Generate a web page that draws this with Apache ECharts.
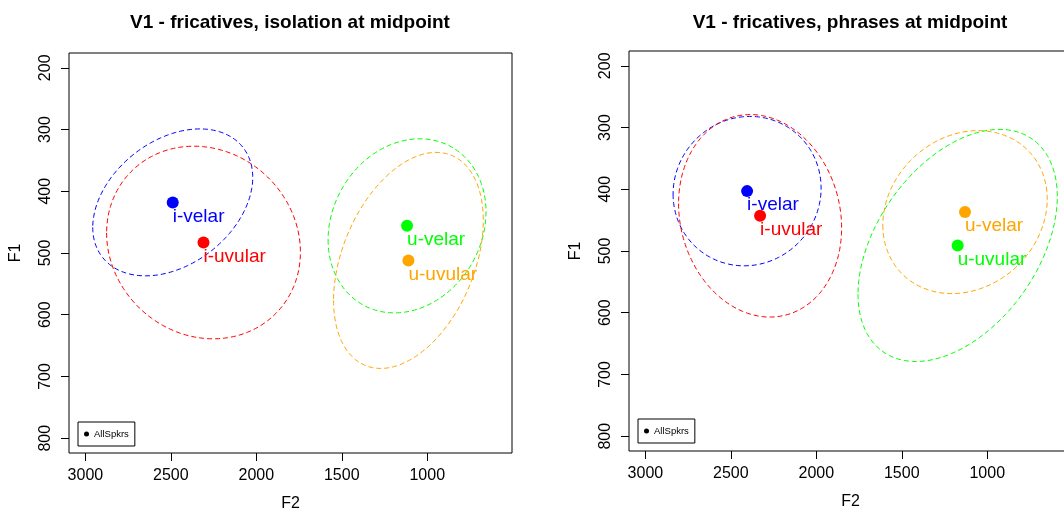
<!DOCTYPE html>
<html>
<head>
<meta charset="utf-8">
<script src="https://cdn.jsdelivr.net/npm/echarts@6/dist/echarts.min.js"></script>
<style>
html, body { margin: 0; padding: 0; background: #fff; }
#main { width: 1064px; height: 510px; }
</style>
</head>
<body>
<div id="main"></div>
<script>
// vowel categories
var vowels = ['i-velar', 'i-uvular', 'u-velar', 'u-uvular'];

// isolation: mean F2 / F1 (Hz) and ellipse half-extents + F2/F1 correlation
var isoF2 = [2489, 2309, 1118, 1110];
var isoF1 = [418, 483, 456, 512];
var isoHalfF2 = [468, 567, 462, 438];
var isoHalfF1 = [119, 156, 141, 175];
var isoCorr = [0.34, -0.10, 0.16, 0.37];

// phrases
var phrF2 = [2405, 2329, 1130, 1173];
var phrF1 = [403, 443, 437, 491];
var phrHalfF2 = [433, 477, 481, 583];
var phrHalfF1 = [121, 164, 132, 188];
var phrCorr = [0.04, -0.12, 0.16, 0.42];

// axis ticks
var f2Ticks = [1000, 1500, 2000, 2500, 3000];
var f1Ticks = [200, 300, 400, 500, 600, 700, 800];

var isoColors = ['#0000FF', '#FF0000', '#00FF00', '#FFA500'];
var phrColors = ['#0000FF', '#FF0000', '#FFA500', '#00FF00'];

var font = 'Liberation Sans, Arial, Helvetica, sans-serif';

var myChart = echarts.init(document.getElementById('main'));

function plain(v) { return String(v); }

function xAxisFor(idx) {
	return {
		type: 'value', gridIndex: idx, min: 504, max: 3096, inverse: true,
		name: 'F2', nameLocation: 'middle', nameGap: 43,
		nameTextStyle: { fontFamily: font, fontSize: 16, color: '#000' },
		axisLine: { show: false },
		axisTick: { show: true, length: 8, customValues: f2Ticks, lineStyle: { color: '#000' } },
		axisLabel: { customValues: f2Ticks, formatter: plain, margin: 15, fontFamily: font, fontSize: 16, color: '#000' },
		splitLine: { show: false }
	};
}
function yAxisFor(idx) {
	return {
		type: 'value', gridIndex: idx, min: 176, max: 824, inverse: true,
		name: 'F1', nameLocation: 'middle', nameGap: 45, nameRotate: 90,
		nameTextStyle: { fontFamily: font, fontSize: 16, color: '#000' },
		axisLine: { show: false },
		axisTick: { show: true, length: 8, customValues: f1Ticks, lineStyle: { color: '#000' } },
		axisLabel: { customValues: f1Ticks, formatter: plain, rotate: 90, margin: 15, fontFamily: font, fontSize: 16, color: '#000' },
		splitLine: { show: false }
	};
}

function ellipseSeries(idx, f2, f1, hx, hy, corr, colors) {
	var data = [];
	for (var i = 0; i < f2.length; i++) {
		data.push({ value: [f2[i], f1[i], hx[i], hy[i], corr[i]], itemStyle: { color: colors[i] } });
	}
	return {
		type: 'custom', xAxisIndex: idx, yAxisIndex: idx, clip: true, z: 1,
		encode: { x: 0, y: 1 },
		renderItem: function(params, api) {
			var mx = api.value(0), my = api.value(1), ax = api.value(2), ay = api.value(3);
			var d = Math.acos(api.value(4));
			var pts = [];
			for (var k = 0; k <= 200; k++) {
				var t = k / 200 * 2 * Math.PI;
				pts.push(api.coord([mx + ax * Math.cos(t), my + ay * Math.cos(t - d)]));
			}
			return {
				type: 'polyline',
				shape: { points: pts },
				style: { stroke: api.visual('color'), fill: null, lineWidth: 1, lineDash: [5, 3] }
			};
		},
		data: data
	};
}

function meanSeries(idx, f2, f1, colors) {
	var data = [];
	for (var i = 0; i < f2.length; i++) {
		data.push({
			name: vowels[i], value: [f2[i], f1[i]],
			itemStyle: { color: colors[i], opacity: 1 },
			label: { color: colors[i] }
		});
	}
	return {
		name: 'AllSpkrs', type: 'scatter', xAxisIndex: idx, yAxisIndex: idx, z: 3,
		symbol: 'circle', symbolSize: 12,
		itemStyle: { opacity: 1 },
		label: {
			show: true, formatter: '{b}', position: [6, 20], align: 'left', verticalAlign: 'middle',
			fontFamily: font, fontSize: 19
		},
		emphasis: { disabled: true },
		data: data
	};
}

function legendFor(left, top) {
	return {
		data: ['AllSpkrs'], left: left, top: top, orient: 'vertical',
		selectedMode: false, icon: 'circle', itemWidth: 5, itemHeight: 5,
		padding: [7, 6], borderColor: '#000', borderWidth: 1, borderRadius: 0,
		itemStyle: { color: '#000', opacity: 1 },
		textStyle: { fontFamily: font, fontSize: 9.5, color: '#000' }
	};
}

option = {
	animation: false,
	backgroundColor: '#fff',
	title: [
		{ text: 'V1 - fricatives, isolation at midpoint', left: 290, top: 13, textAlign: 'center', padding: 0,
			textStyle: { fontFamily: font, fontSize: 19, fontWeight: 'bold', color: '#000' } },
		{ text: 'V1 - fricatives, phrases at midpoint', left: 850, top: 13, textAlign: 'center', padding: 0,
			textStyle: { fontFamily: font, fontSize: 19, fontWeight: 'bold', color: '#000' } }
	],
	legend: [legendFor(78, 422), legendFor(638, 419)],
	grid: [
		{ left: 69, top: 53, width: 443, height: 400, show: true, borderColor: '#000', borderWidth: 1, outerBoundsMode: 'none' },
		{ left: 629, top: 51, width: 443, height: 400, show: true, borderColor: '#000', borderWidth: 1, outerBoundsMode: 'none' }
	],
	xAxis: [xAxisFor(0), xAxisFor(1)],
	yAxis: [yAxisFor(0), yAxisFor(1)],
	series: [
		ellipseSeries(0, isoF2, isoF1, isoHalfF2, isoHalfF1, isoCorr, isoColors),
		ellipseSeries(1, phrF2, phrF1, phrHalfF2, phrHalfF1, phrCorr, phrColors),
		meanSeries(0, isoF2, isoF1, isoColors),
		meanSeries(1, phrF2, phrF1, phrColors)
	]
};
myChart.setOption(option);
</script>
</body>
</html>
